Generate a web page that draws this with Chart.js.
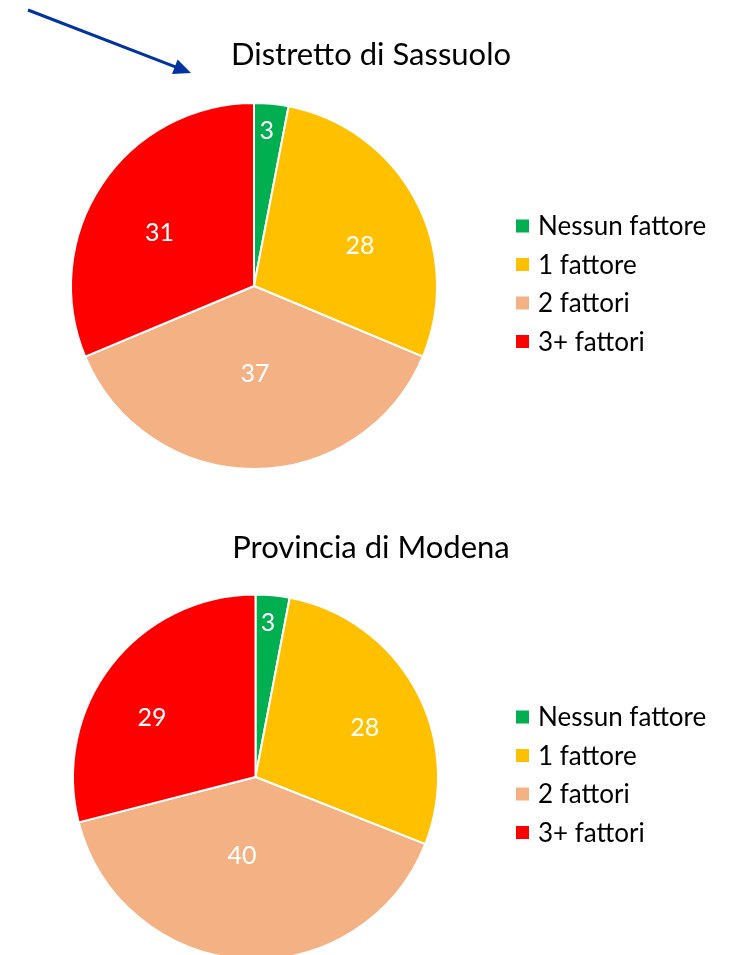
<!DOCTYPE html>
<html>
<head>
<meta charset="utf-8">
<script src="https://cdn.jsdelivr.net/npm/chart.js@4"></script>
<style>
  html, body { margin: 0; padding: 0; background: #fff; overflow: hidden; }
  .box { position: absolute; left: 0; width: 735px; }
  #top { top: 0; height: 490px; }
  #bottom { top: 490px; height: 500px; }
</style>
</head>
<body>
<div class="box" id="top"><canvas id="c1" width="735" height="490"></canvas></div>
<div class="box" id="bottom"><canvas id="c2" width="735" height="500"></canvas></div>
<script>
const categories = ["Nessun fattore", "1 fattore", "2 fattori", "3+ fattori"];
const sassuolo = [3, 28, 37, 31];
const modena = [3, 28, 40, 29];
const titles = ["Distretto di Sassuolo", "Provincia di Modena"];

const colors = ["#00B050", "#FFC000", "#F4B183", "#FF0000"];
const FONT = "Lato, 'Open Sans', sans-serif";

// title, legend, white value labels and the arrow, drawn after the pie
const extras = {
  id: "extras",
  afterDraw(chart, args, opts){
    const ctx = chart.ctx;
    const meta = chart.getDatasetMeta(0);
    const values = chart.data.datasets[0].data;
    const max = Math.max(...values);
    ctx.save();

    // value labels (radial spot, then a small nudge like Excel's best fit)
    ctx.fillStyle = "#fff";
    ctx.font = "25px " + FONT;
    ctx.textAlign = "center";
    ctx.textBaseline = "middle";
    meta.data.forEach((arc, i)=>{
      const p = arc.getProps(["x", "y", "startAngle", "endAngle", "outerRadius"], true);
      const mid = (p.startAngle + p.endAngle) / 2;
      let f = 0.62;
      if(values[i] < 5){ f = 0.85; }
      else if(values[i] === max){ f = 0.48; }
      const [nx, ny] = opts.nudge[i];
      ctx.fillText(String(values[i]),
        p.x + Math.cos(mid) * p.outerRadius * f + nx,
        p.y + Math.sin(mid) * p.outerRadius * f + ny);
    });

    // title
    ctx.fillStyle = "#000";
    ctx.font = "31px " + FONT;
    ctx.fillText(opts.title, opts.titleX, opts.titleY);

    // legend
    ctx.font = "26px " + FONT;
    ctx.textAlign = "left";
    chart.data.labels.forEach((lab, i)=>{
      const y = opts.legendY + i * 38.5;
      ctx.fillStyle = colors[i];
      ctx.fillRect(opts.legendX, y - 6.5, 13, 13);
      ctx.fillStyle = "#000";
      ctx.fillText(lab, opts.legendX + 22, y + 1);
    });

    // arrow pointing at the first title
    if(opts.arrow){
      const [x1, y1, x2, y2] = [28, 10, 191, 73];
      const a = Math.atan2(y2 - y1, x2 - x1);
      ctx.strokeStyle = ctx.fillStyle = "#0033A0";
      ctx.lineWidth = 3;
      ctx.beginPath();
      ctx.moveTo(x1, y1);
      ctx.lineTo(x2 - Math.cos(a) * 14, y2 - Math.sin(a) * 14);
      ctx.stroke();
      ctx.beginPath();
      ctx.moveTo(x2, y2);
      ctx.lineTo(x2 - Math.cos(a - 0.42) * 19, y2 - Math.sin(a - 0.42) * 19);
      ctx.lineTo(x2 - Math.cos(a + 0.42) * 19, y2 - Math.sin(a + 0.42) * 19);
      ctx.closePath();
      ctx.fill();
    }
    ctx.restore();
  }
};

function makePie(id, values, padding, extraOpts){
  return new Chart(document.getElementById(id), {
    type: "pie",
    data: {
      labels: categories,
      datasets: [{
        data: values,
        backgroundColor: colors,
        borderColor: "#fff",
        borderWidth: 2
      }]
    },
    options: {
      responsive: false,
      animation: false,
      layout: { padding: padding },
      plugins: {
        legend: { display: false },
        tooltip: { enabled: false },
        extras: extraOpts
      }
    },
    plugins: [extras]
  });
}

makePie("c1", sassuolo,
  { left: 70, right: 297, top: 102, bottom: 20 },
  { title: titles[0], titleX: 371, titleY: 55, legendX: 516, legendY: 226, arrow: true,
    nudge: [[-2, 0], [6, 14], [1, 0], [0, 10]] });

makePie("c2", modena,
  { left: 72, right: 296, top: 103, bottom: 29 },
  { title: titles[1], titleX: 371, titleY: 58, legendX: 516, legendY: 227, arrow: false,
    nudge: [[-2, 0], [10, 5], [-8, -8], [-14, 10]] });
</script>
</body>
</html>
